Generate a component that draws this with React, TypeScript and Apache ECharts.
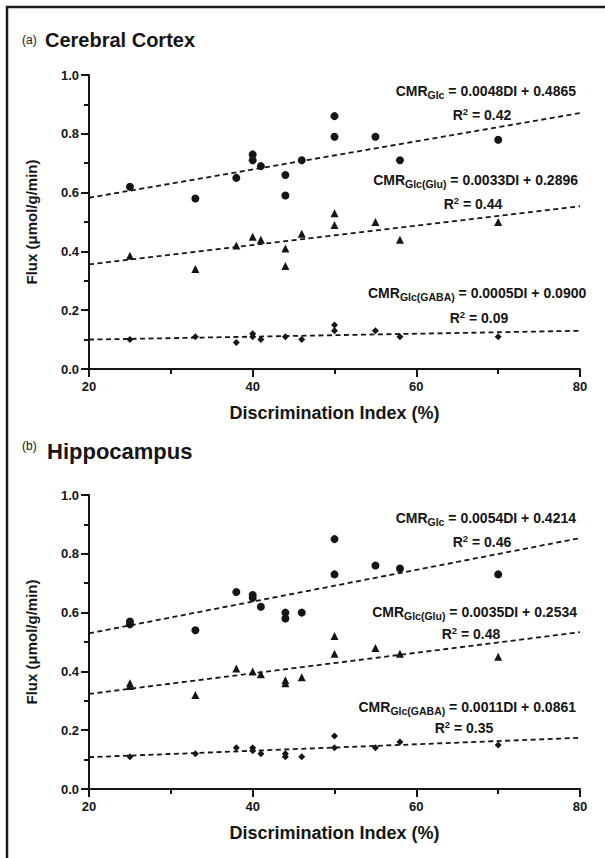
import React, { useEffect, useRef } from "react";
import * as echarts from "echarts";

// ---------- Data ----------
// Panel (a) Cerebral Cortex
const glcA_x = [25, 33, 38, 40, 40, 41, 44, 44, 46, 50, 50, 55, 58, 70];
const glcA_y = [0.62, 0.58, 0.65, 0.73, 0.71, 0.69, 0.66, 0.59, 0.71, 0.86, 0.79, 0.79, 0.71, 0.78];
const gluA_x = [25, 33, 38, 40, 41, 44, 44, 46, 50, 50, 55, 58, 70];
const gluA_y = [0.385, 0.34, 0.42, 0.45, 0.44, 0.41, 0.35, 0.46, 0.53, 0.49, 0.5, 0.44, 0.5];
const gabaA_x = [25, 33, 38, 40, 40, 41, 44, 46, 50, 50, 55, 58, 70];
const gabaA_y = [0.1, 0.11, 0.09, 0.12, 0.11, 0.1, 0.11, 0.1, 0.15, 0.13, 0.13, 0.11, 0.11];

// Panel (b) Hippocampus
const glcB_x = [25, 25, 33, 38, 40, 40, 41, 44, 44, 46, 50, 50, 55, 58, 70];
const glcB_y = [0.57, 0.56, 0.54, 0.67, 0.66, 0.65, 0.62, 0.6, 0.58, 0.6, 0.85, 0.73, 0.76, 0.75, 0.73];
const gluB_x = [25, 25, 33, 38, 40, 41, 44, 44, 46, 50, 50, 55, 58, 70];
const gluB_y = [0.36, 0.35, 0.32, 0.41, 0.4, 0.39, 0.37, 0.36, 0.38, 0.52, 0.46, 0.48, 0.46, 0.45];
const gabaB_x = [25, 33, 38, 40, 40, 41, 44, 44, 46, 50, 50, 55, 58, 70];
const gabaB_y = [0.11, 0.12, 0.14, 0.14, 0.13, 0.12, 0.12, 0.11, 0.11, 0.18, 0.14, 0.14, 0.16, 0.15];

// Regression equations (Glc, Glu, GABA)
const slopesA = [0.0048, 0.0033, 0.0005];
const interceptsA = [0.4865, 0.2896, 0.09];
const slopeTextA = ["0.0048", "0.0033", "0.0005"];
const interceptTextA = ["0.4865", "0.2896", "0.0900"];
const r2A = ["0.42", "0.44", "0.09"];

const slopesB = [0.0054, 0.0035, 0.0011];
const interceptsB = [0.4214, 0.2534, 0.0861];
const slopeTextB = ["0.0054", "0.0035", "0.0011"];
const interceptTextB = ["0.4214", "0.2534", "0.0861"];
const r2B = ["0.46", "0.48", "0.35"];

const subscripts = ["Glc", "Glc(Glu)", "Glc(GABA)"];
const panelTitles = ["Cerebral Cortex", "Hippocampus"];
const panelLetters = ["(a)", "(b)"];
const xTicks = [20, 40, 60, 80];
const xRange = [20, 80];
const yTicks = [0, 0.2, 0.4, 0.6, 0.8, 1.0];
const xTitle = "Discrimination Index (%)";
const yTitle = "Flux (\u03bcmol/g/min)";

// ---------- Styling ----------
const FONT = "'Liberation Sans', Arial, Helvetica, sans-serif";
const INK = "#151515";

function zip(xs: number[], ys: number[]) {
  return xs.map((x, i) => [x, ys[i]]);
}

export default function App() {
  const ref = useRef<HTMLDivElement>(null);

  useEffect(() => {
    if (!ref.current) return;
    const chart = echarts.init(ref.current, null, { renderer: "svg" });

    const grids = [
      { left: 89, top: 75, width: 491, height: 294 },
      { left: 89, top: 495, width: 491, height: 294 },
    ];

    const mkX = (i: number) => ({
      type: "value",
      gridIndex: i,
      min: xTicks[0],
      max: xTicks[xTicks.length - 1],
      interval: xTicks[1] - xTicks[0],
      name: xTitle,
      nameLocation: "middle",
      nameGap: 35,
      nameTextStyle: { fontFamily: FONT, fontWeight: "bold", fontSize: 18, color: INK },
      axisLine: { show: true, onZero: false, lineStyle: { color: INK, width: 2 } },
      axisTick: { show: true, length: 8, lineStyle: { color: INK, width: 2 } },
      minorTick: { show: true, splitNumber: 2, length: 5, lineStyle: { color: INK, width: 2 } },
      axisLabel: { fontFamily: FONT, fontWeight: "bold", fontSize: 13, color: INK, margin: 11 },
      splitLine: { show: false },
    });

    const mkY = (i: number) => ({
      type: "value",
      gridIndex: i,
      min: yTicks[0],
      max: yTicks[yTicks.length - 1],
      interval: yTicks[1] - yTicks[0],
      name: yTitle,
      nameLocation: "middle",
      nameGap: 50,
      nameTextStyle: { fontFamily: FONT, fontWeight: "bold", fontSize: 15, color: INK },
      axisLine: { show: true, onZero: false, lineStyle: { color: INK, width: 2 } },
      axisTick: { show: true, length: 8, lineStyle: { color: INK, width: 2 } },
      minorTick: { show: true, splitNumber: 2, length: 5, lineStyle: { color: INK, width: 2 } },
      axisLabel: {
        fontFamily: FONT,
        fontWeight: "bold",
        fontSize: 13,
        color: INK,
        margin: 10,
        formatter: (v: number) => v.toFixed(1),
      },
      splitLine: { show: false },
    });

    const scatter = (i: number, xs: number[], ys: number[], symbol: string, size: number) => ({
      type: "scatter",
      xAxisIndex: i,
      yAxisIndex: i,
      data: zip(xs, ys),
      symbol,
      symbolSize: size,
      itemStyle: { color: INK, opacity: 1 },
      z: 4,
      silent: true,
    });

    const fitLine = (i: number, m: number, b: number) => ({
      type: "line",
      xAxisIndex: i,
      yAxisIndex: i,
      data: xRange.map((x) => [x, b + m * x]),
      symbol: "none",
      lineStyle: { color: INK, width: 1.8, type: [5, 3.5] },
      z: 3,
      silent: true,
    });

    const series: any[] = [];
    [
      [glcA_x, glcA_y, "circle", 8],
      [gluA_x, gluA_y, "triangle", 8],
      [gabaA_x, gabaA_y, "diamond", 7],
    ].forEach(([xs, ys, s, sz]: any) => series.push(scatter(0, xs, ys, s, sz)));
    [
      [glcB_x, glcB_y, "circle", 8],
      [gluB_x, gluB_y, "triangle", 8],
      [gabaB_x, gabaB_y, "diamond", 7],
    ].forEach(([xs, ys, s, sz]: any) => series.push(scatter(1, xs, ys, s, sz)));
    slopesA.forEach((m, k) => series.push(fitLine(0, m, interceptsA[k])));
    slopesB.forEach((m, k) => series.push(fitLine(1, m, interceptsB[k])));

    const tok = (size: number, extra: any = {}) => ({
      fontFamily: FONT,
      fontWeight: "bold",
      fontSize: size,
      fill: INK,
      color: INK,
      ...extra,
    });
    const rich = {
      m: tok(14, { lineHeight: 18 }),
      s: tok(10.5, { lineHeight: 10, verticalAlign: "bottom" }),
      p: tok(9.5, { lineHeight: 9, verticalAlign: "top" }),
    };

    const textEl = (text: string, x: number, y: number, align: string) => ({
      type: "text",
      x,
      y,
      silent: true,
      style: {
        text,
        rich,
        fill: INK,
        textAlign: align,
        align,
        textVerticalAlign: "middle",
        verticalAlign: "middle",
        fontFamily: FONT,
        fontWeight: "bold",
        fontSize: 14,
      },
    });

    // annotation placement (pixels)
    const eqPosA = [
      [576, 91, "right"],
      [578, 180, "right"],
      [368, 293, "left"],
    ];
    const r2PosA = [
      [482, 115],
      [473, 204],
      [479, 318],
    ];
    const eqPosB = [
      [576, 518, "right"],
      [577, 612, "right"],
      [576, 707, "right"],
    ];
    const r2PosB = [
      [482, 542],
      [471, 634],
      [464, 728],
    ];

    const graphics: any[] = [
      {
        type: "rect",
        silent: true,
        shape: { x: 7, y: 7, width: 900, height: 1200 },
        style: { fill: "none", stroke: "#1a1a1a", lineWidth: 2.5 },
      },
    ];

    const titleY = [40, 451];
    const letterY = [40, 446];
    const titleSize = [20, 22];
    panelTitles.forEach((t, i) => {
      graphics.push({
        type: "text",
        x: 22,
        y: letterY[i],
        silent: true,
        style: {
          text: panelLetters[i],
          fontFamily: FONT,
          fontSize: 12,
          fill: INK,
          textVerticalAlign: "middle",
          verticalAlign: "middle",
        },
      });
      graphics.push({
        type: "text",
        x: i === 0 ? 45 : 47,
        y: titleY[i],
        silent: true,
        style: {
          text: t,
          fontFamily: FONT,
          fontWeight: "bold",
          fontSize: titleSize[i],
          fill: INK,
          textVerticalAlign: "middle",
          verticalAlign: "middle",
        },
      });
    });

    const addEqs = (
      slopeT: string[],
      intT: string[],
      r2: string[],
      eqPos: any[],
      r2Pos: any[]
    ) => {
      subscripts.forEach((sub, k) => {
        const eq = `{m|CMR}{s|${sub}}{m| = ${slopeT[k]}DI + ${intT[k]}}`;
        graphics.push(textEl(eq, eqPos[k][0], eqPos[k][1], eqPos[k][2]));
        const rr = `{m|R}{p|2}{m| = ${r2[k]}}`;
        graphics.push(textEl(rr, r2Pos[k][0], r2Pos[k][1], "center"));
      });
    };
    addEqs(slopeTextA, interceptTextA, r2A, eqPosA, r2PosA);
    addEqs(slopeTextB, interceptTextB, r2B, eqPosB, r2PosB);

    chart.setOption({
      animation: false,
      backgroundColor: "#ffffff",
      grid: grids,
      xAxis: [mkX(0), mkX(1)],
      yAxis: [mkY(0), mkY(1)],
      series,
      graphic: graphics,
    });

    return () => chart.dispose();
  }, []);

  return (
    <div
      ref={ref}
      style={{ position: "absolute", left: 0, top: 0, width: 605, height: 858, background: "#fff" }}
    />
  );
}
